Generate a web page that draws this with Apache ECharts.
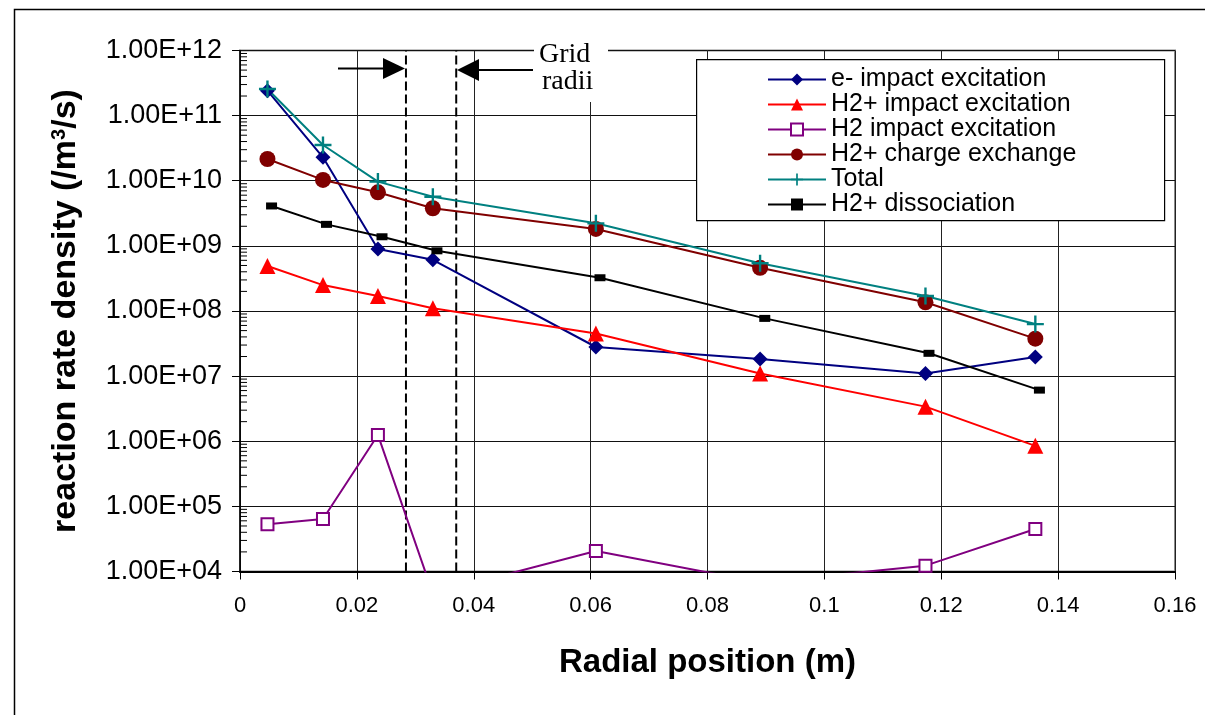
<!DOCTYPE html>
<html>
<head>
<meta charset="utf-8">
<script src="https://cdn.jsdelivr.net/npm/echarts@6/dist/echarts.min.js"></script>
<style>
  html, body { margin: 0; padding: 0; background: #fff; }
  #main { width: 1205px; height: 715px; }
</style>
</head>
<body>
<div id="main"></div>
<script>
// radial positions (m)
var xPos = [0.0047, 0.0142, 0.0236, 0.0330, 0.0609, 0.0890, 0.1173, 0.1361];
var xPosDiss = [0.0054, 0.0148, 0.0243, 0.0337, 0.0616, 0.0898, 0.1179, 0.1368];

// reaction rate densities (/m3/s)
var eImpact = [2.42e11, 2.29e10, 8.95e8, 6.1e8, 2.8e7, 1.83e7, 1.1e7, 1.97e7];
var h2pImpact = [4.9e8, 2.5e8, 1.7e8, 1.1e8, 4.5e7, 1.1e7, 3.4e6, 8.5e5];
var h2Impact = [5.3e4, 6.4e4, 1.25e6, 4.6e3, 2.06e4, 6.8e3, 1.23e4, 4.5e4];
var h2pCx = [2.16e10, 1.03e10, 6.65e9, 3.78e9, 1.82e9, 4.6e8, 1.36e8, 3.76e7];
var total = [2.56e11, 3.54e10, 9.7e9, 5.69e9, 2.22e9, 5.4e8, 1.70e8, 6.3e7];
var h2pDiss = [4.1e9, 2.14e9, 1.38e9, 8.4e8, 3.24e8, 7.7e7, 2.24e7, 6.1e6];

var seriesNames = ['e- impact excitation', 'H2+ impact excitation', 'H2 impact excitation',
  'H2+ charge exchange', 'Total', 'H2+ dissociation'];

// grid radii (dashed lines), drawn over the full y range
var gridRadii = [0.0284, 0.0370];
var yRange = [1e4, 1e12];

// tick labels
var yTickLabels = ['1.00E+04', '1.00E+05', '1.00E+06', '1.00E+07', '1.00E+08',
  '1.00E+09', '1.00E+10', '1.00E+11', '1.00E+12'];
var minorMantissa = [2, 3, 4, 5, 6, 7, 8, 9];
var minorDecades = [4, 5, 6, 7, 8, 9, 10, 11];

var plusPath = 'path://M4.3,0H5.7V4.3H10V5.7H5.7V10H4.3V5.7H0V4.3H4.3Z';

function pairs(xs, ys) {
  var out = [];
  for (var i = 0; i < ys.length; i++) out.push([xs[i], ys[i]]);
  return out;
}

var minorTicks = [];
minorDecades.forEach(function (d) {
  minorMantissa.forEach(function (m) { minorTicks.push([0, m * Math.pow(10, d)]); });
});

function lineSeries(name, xs, ys, color, symbol, size, extra) {
  var s = {
    name: name,
    type: 'line',
    data: pairs(xs, ys),
    symbol: symbol,
    symbolSize: size,
    clip: true,
    lineStyle: { color: color, width: 2 },
    itemStyle: { color: color },
    z: 3
  };
  for (var k in extra) s[k] = extra[k];
  return s;
}

var radiiSeries = gridRadii.map(function (r) {
  return {
    name: 'radius',
    type: 'line',
    data: [[r, yRange[0]], [r, yRange[1]]],
    symbol: 'none',
    silent: true,
    lineStyle: { color: '#000', width: 2, type: [9, 4] },
    z: 2
  };
});

var chart = echarts.init(document.getElementById('main'));

var option = {
  backgroundColor: '#fff',
  animation: false,
  grid: {
    left: 240, top: 50.5, right: 30, bottom: 143.5,
    show: true, borderColor: '#8a8a8a', borderWidth: 2, backgroundColor: '#fff'
  },
  xAxis: {
    type: 'value',
    min: 0, max: 0.16, interval: 0.02,
    name: 'Radial position (m)',
    nameLocation: 'middle',
    nameGap: 75,
    nameTextStyle: { fontFamily: 'Liberation Sans, Arial, sans-serif', fontWeight: 'bold', fontSize: 33, color: '#000' },
    axisLine: { show: true, onZero: false, lineStyle: { color: '#000', width: 2 } },
    axisTick: { show: true, length: 8, lineStyle: { color: '#000', width: 1 } },
    axisLabel: {
      margin: 23, color: '#000', fontSize: 22,
      fontFamily: 'Liberation Sans Narrow, Arial Narrow, Liberation Sans, sans-serif'
    },
    splitLine: { show: true, lineStyle: { color: '#222', width: 1 } }
  },
  yAxis: {
    type: 'log',
    logBase: 10,
    min: 1e4, max: 1e12, interval: 1,
    name: 'reaction rate density (/m{sup|3}/s)',
    nameLocation: 'middle',
    nameGap: 157,
    nameTextStyle: {
      fontFamily: 'Liberation Sans, Arial, sans-serif', fontWeight: 'bold', fontSize: 34, color: '#000',
      rich: {
        sup: { fontFamily: 'Liberation Sans, Arial, sans-serif', fontWeight: 'bold', fontSize: 20, verticalAlign: 'top', lineHeight: 22, padding: [0, 0, 14, 0] }
      }
    },
    axisLine: { show: true, lineStyle: { color: '#000', width: 1.5 } },
    axisTick: { show: true, inside: false, length: 8, lineStyle: { color: '#000', width: 1 } },
    axisLabel: {
      margin: 18, color: '#000', fontSize: 27,
      fontFamily: 'Liberation Sans, Arial, sans-serif',
      formatter: function (v) {
        var e = Math.round(Math.log(v) / Math.LN10);
        return yTickLabels[e - 4];
      }
    },
    splitLine: { show: true, lineStyle: { color: '#111', width: 1 } }
  },
  legend: {
    data: seriesNames,
    orient: 'vertical',
    left: 697, top: 67,
    padding: [0, 0, 0, 70],
    itemGap: 0,
    itemWidth: 58,
    itemHeight: 15,
    backgroundColor: 'transparent',
    textStyle: { fontFamily: 'Liberation Sans, Arial, sans-serif', fontSize: 25, lineHeight: 25, color: '#000' },
    z: 10
  },
  graphic: [
    // outer frame
    { type: 'rect', left: 12, top: 7, shape: { width: 1200, height: 712 }, style: { fill: null, stroke: '#000', lineWidth: 1.5 }, z: 1 },
    // legend box
    { type: 'rect', left: 696, top: 59, shape: { width: 468, height: 161 }, style: { fill: '#fff', stroke: '#000', lineWidth: 1.2 }, z: 5 },
    // label box for grid radii
    { type: 'rect', left: 534, top: 36, shape: { width: 74, height: 66 }, style: { fill: '#fff' }, z: 5 },
    { type: 'text', left: 539, top: 41, style: { text: 'Grid', font: '28px "Liberation Serif", "Times New Roman", serif', fill: '#000' }, z: 6 },
    { type: 'text', left: 542, top: 68, style: { text: 'radii', font: '28px "Liberation Serif", "Times New Roman", serif', fill: '#000' }, z: 6 },
    // arrows
    { type: 'line', shape: { x1: 338, y1: 68.5, x2: 386, y2: 68.5 }, style: { stroke: '#000', lineWidth: 2 }, z: 6 },
    { type: 'polygon', shape: { points: [[383, 58], [405, 68.5], [383, 79]] }, style: { fill: '#000' }, z: 6 },
    { type: 'line', shape: { x1: 476, y1: 70, x2: 533, y2: 70 }, style: { stroke: '#000', lineWidth: 2 }, z: 6 },
    { type: 'polygon', shape: { points: [[479, 59], [457, 70], [479, 81]] }, style: { fill: '#000' }, z: 6 }
  ],
  series: [
    lineSeries(seriesNames[0], xPos, eImpact, '#000080', 'diamond', 15, {}),
    lineSeries(seriesNames[1], xPos, h2pImpact, '#ff0000', 'triangle', 16, {}),
    lineSeries(seriesNames[2], xPos, h2Impact, '#800080', 'emptyRect', 12, {
      itemStyle: { color: '#800080', borderColor: '#800080', borderWidth: 2 }
    }),
    lineSeries(seriesNames[3], xPos, h2pCx, '#800000', 'circle', 16, {}),
    lineSeries(seriesNames[4], xPos, total, '#008080', plusPath, 17, {}),
    lineSeries(seriesNames[5], xPosDiss, h2pDiss, '#000000', 'rect', [11, 7], {}),
    {
      // minor ticks of the log axis (inside)
      type: 'custom',
      silent: true,
      data: minorTicks,
      z: 4,
      renderItem: function (params, api) {
        var p = api.coord([0, api.value(1)]);
        return {
          type: 'line',
          shape: { x1: p[0], y1: p[1], x2: p[0] + 7, y2: p[1] },
          style: { stroke: '#000', lineWidth: 1 }
        };
      }
    }
  ].concat(radiiSeries)
};

chart.setOption(option);
</script>
</body>
</html>
